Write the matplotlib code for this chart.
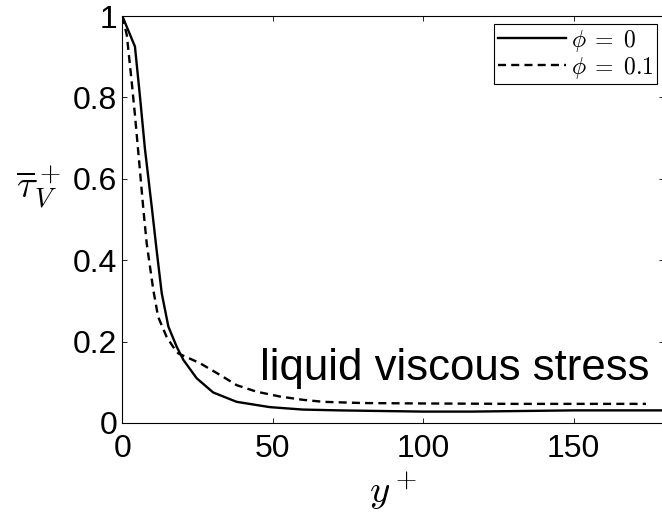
import matplotlib
matplotlib.use("Agg")
import matplotlib.pyplot as plt

# wall-normal distance and mean viscous stress
y_plus_phi0 = [0, 4.2, 5.9, 7.5, 9.8, 11.4, 13.1, 15.3, 18.1, 20.3, 24.7, 30.2,
               38, 49, 60, 72, 100, 116, 150, 180]
tau_phi0 = [1.0, 0.925, 0.80, 0.675, 0.53, 0.425, 0.319, 0.237, 0.187, 0.155,
            0.11, 0.075, 0.052, 0.039, 0.033, 0.031, 0.028, 0.028, 0.031, 0.031]

y_plus_phi01 = [0, 1.5, 3.1, 4.2, 5.7, 7.0, 8.1, 9.2, 10.3, 11.9, 14.7, 16.9,
                18.6, 25.8, 32.5, 38, 44.6, 52.4, 60, 66.8, 80, 100, 130, 174]
tau_phi01 = [1.0, 0.953, 0.84, 0.757, 0.634, 0.525, 0.442, 0.384, 0.327, 0.261,
             0.212, 0.187, 0.171, 0.147, 0.118, 0.093, 0.077, 0.065, 0.057,
             0.052, 0.049, 0.048, 0.047, 0.047]

labels = [r'$\phi\;=\;0$', r'$\phi\;=\;0.1$']
x_ticks = [0, 50, 100, 150]
y_ticks = [0, 0.2, 0.4, 0.6, 0.8, 1]
y_tick_labels = ['0', '0.2', '0.4', '0.6', '0.8', '1']

plt.rcParams['font.family'] = ['Liberation Sans', 'DejaVu Sans']
plt.rcParams['mathtext.fontset'] = 'cm'

fig = plt.figure(figsize=(6.62, 5.14), dpi=100)
ax = fig.add_axes([122.3 / 662, 91 / 514, 541.7 / 662, 407 / 514])

ax.plot(y_plus_phi0, tau_phi0, color='black', linewidth=1.7, label=labels[0])
ax.plot(y_plus_phi01, tau_phi01, color='black', linewidth=1.7,
        dashes=(3.4, 2.2), label=labels[1])

ax.set_xlim(0, 180)
ax.set_ylim(0, 1)
ax.set_xticks(x_ticks)
ax.set_xticklabels([str(t) for t in x_ticks])
ax.set_yticks(y_ticks)
ax.set_yticklabels(y_tick_labels)
ax.tick_params(direction='in', length=3.5, width=0.6, labelsize=23,
               top=True, right=True)
ax.tick_params(axis='x', pad=8)
ax.tick_params(axis='y', pad=3.5)
for s in ax.spines.values():
    s.set_linewidth(0.8)

ax.set_xlabel(r'$y^+$', fontsize=28)
ax.xaxis.set_label_coords(0.5, -0.115)
ax.set_ylabel(r'$\overline{\tau}_V^+$', fontsize=28, rotation=0)
ax.yaxis.set_label_coords(-0.155, 0.52)

ax.text(45.7, 0.106, 'liquid viscous stress', fontsize=31.5, va='baseline')

leg = ax.legend(loc='upper right', bbox_to_anchor=(657 / 662, 1 - 24 / 514),
                bbox_transform=fig.transFigure, borderaxespad=0, fontsize=17,
                handlelength=2.9, handletextpad=0.2, borderpad=0.15,
                labelspacing=0.05, fancybox=False, framealpha=1,
                edgecolor='black')
leg.get_frame().set_linewidth(0.8)

fig.savefig('out.png', dpi=100)
